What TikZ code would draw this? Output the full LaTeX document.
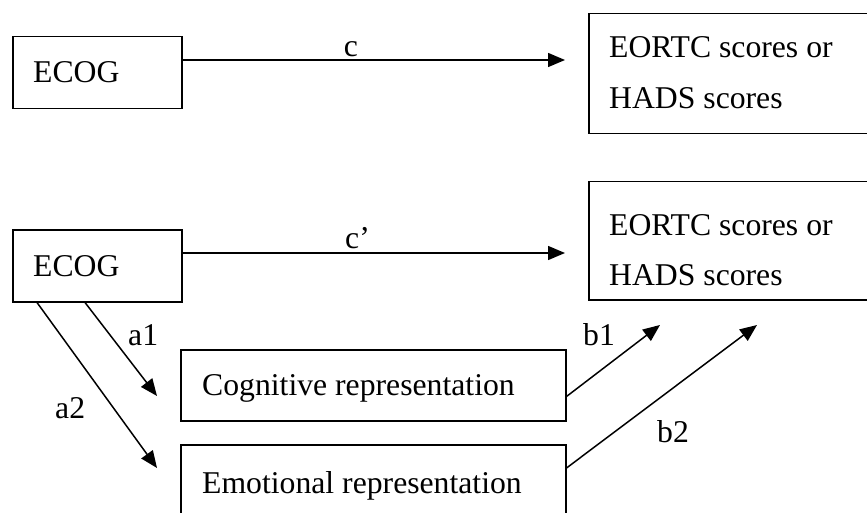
\documentclass[tikz,border=0pt]{standalone}
\usepackage{fontspec}
\setmainfont{Liberation Serif}
\usetikzlibrary{arrows.meta}

\begin{document}
\begin{tikzpicture}[x=1pt,y=-1pt,
  box/.style={draw, line width=1.5pt, rectangle, inner sep=0pt, anchor=north west},
  txt/.style={inner sep=0pt, anchor=base west, font=\fontsize{31.7}{36}\selectfont},
  lbl/.style={inner sep=0pt, anchor=base west, font=\fontsize{31.7}{36}\selectfont},
  arr/.style={line width=1.5pt, -{Triangle[length=17pt,width=14pt]}}]
\useasboundingbox (0,0) rectangle (867,513);

% ---- total effect ----
\node[box, minimum width=169pt, minimum height=72pt] (ecogA) at (12,36) {};
\node[txt] (ecogAt) at (33,83) {ECOG};
\node[box, minimum width=300pt, minimum height=120pt] (outA) at (588,13) {};
\node[txt] (outAt1) at (609,58) {EORTC scores or};
\node[txt] (outAt2) at (609,109) {HADS scores};
\coordinate (cEnd) at (565,60);
\draw[arr] (ecogA.east |- cEnd) -- (cEnd);
\node[lbl, anchor=base] (cLbl) at (351,57) {c};

% ---- mediated model ----
\node[box, minimum width=169pt, minimum height=72pt] (ecogB) at (12,229) {};
\node[txt] (ecogBt) at (33,276) {ECOG};
\node[box, minimum width=300pt, minimum height=118pt] (outB) at (588,181) {};
\node[txt] (outBt1) at (609,236) {EORTC scores or};
\node[txt] (outBt2) at (609,285) {HADS scores};
\coordinate (cpEnd) at (565,253);
\draw[arr] (ecogB.east |- cpEnd) -- (cpEnd);
\node[lbl] (cpLbl) at (345,248) {c’};

\node[box, minimum width=385pt, minimum height=71pt] (cog) at (180,349) {};
\node[txt] (cogt) at (202,395) {Cognitive representation};
\node[box, minimum width=385pt, minimum height=90pt] (emo) at (180,444) {};
\node[txt] (emot) at (202,493) {Emotional representation};

% paths a1, a2
\coordinate (a1Tip) at (157,396);
\coordinate (a2Tip) at (157,468);
\draw[arr] ([xshift=73pt]ecogB.south west) -- (a1Tip);
\draw[arr] ([xshift=25pt]ecogB.south west) -- (a2Tip);
\node[lbl] (a1Lbl) at (128,345) {a1};
\node[lbl] (a2Lbl) at (55,418) {a2};

% paths b1, b2
\coordinate (b1Tip) at (660,325);
\coordinate (b2Tip) at (757,325);
\draw[arr] ([yshift=25pt]cog.south east) -- (b1Tip);
\draw[arr] ([yshift=-24pt]emo.north east) -- (b2Tip);
\node[lbl] (b1Lbl) at (583,345) {b1};
\node[lbl] (b2Lbl) at (657,442) {b2};
\end{tikzpicture}
\end{document}
